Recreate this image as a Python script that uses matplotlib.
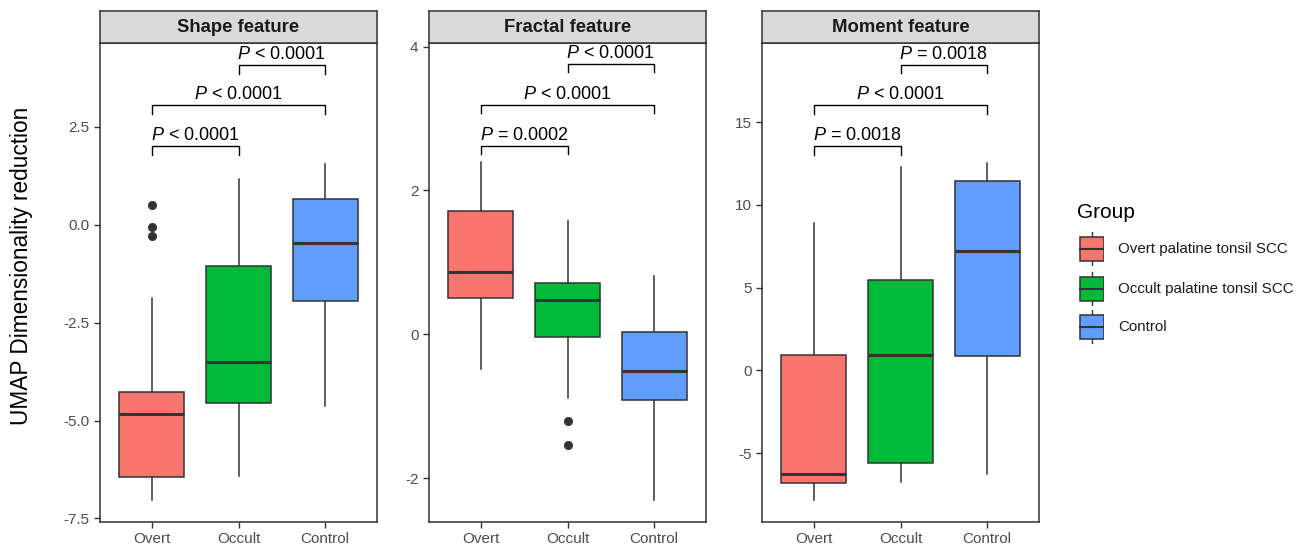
import numpy as np
import matplotlib.pyplot as plt
from matplotlib.patches import Rectangle

plt.rcParams['font.family'] = ['Liberation Sans', 'DejaVu Sans']
plt.rcParams['mathtext.fontset'] = 'custom'
plt.rcParams['mathtext.it'] = 'Liberation Sans:italic'
plt.rcParams['mathtext.rm'] = 'Liberation Sans'

# Skupiny a barvy
groups = ['Overt', 'Occult', 'Control']
legend_labels = ['Overt palatine tonsil SCC', 'Occult palatine tonsil SCC', 'Control']
colors = ['#F8766D', '#00BA38', '#619CFF']
edge = '#333333'

panels = ['Shape feature', 'Fractal feature', 'Moment feature']

# Statistiky boxplotu: [dolní vous, Q1, medián, Q3, horní vous]
shape_stats = [[-7.02, -6.45, -4.83, -4.26, -1.87],
               [-6.42, -4.56, -3.50, -1.05, 1.16],
               [-4.62, -1.95, -0.46, 0.65, 1.54]]
shape_fliers = [[0.51, -0.07, -0.28], [], []]

fractal_stats = [[-0.48, 0.51, 0.87, 1.71, 2.39],
                 [-0.89, -0.04, 0.48, 0.71, 1.57],
                 [-2.31, -0.92, -0.51, 0.03, 0.81]]
fractal_fliers = [[], [-1.20, -1.54], []]

moment_stats = [[-7.82, -6.77, -6.24, 0.95, 8.88],
                [-6.72, -5.60, 0.95, 5.45, 12.30],
                [-6.24, 0.89, 7.19, 11.42, 12.54]]
moment_fliers = [[], [], []]

# Porovnání (skupina a, skupina b, výška závorky, text)
shape_comp = [(0, 1, 2.01, '< 0.0001'), (0, 2, 3.05, '< 0.0001'), (1, 2, 4.07, '< 0.0001')]
fractal_comp = [(0, 1, 2.62, '= 0.0002'), (0, 2, 3.19, '< 0.0001'), (1, 2, 3.76, '< 0.0001')]
moment_comp = [(0, 1, 13.53, '= 0.0018'), (0, 2, 16.0, '< 0.0001'), (1, 2, 18.46, '= 0.0018')]

ylims = [(-7.59, 4.64), (-2.61, 4.05), (-9.15, 19.77)]
yticks = [[-7.5, -5.0, -2.5, 0.0, 2.5], [-2, 0, 2, 4], [-5, 0, 5, 10, 15]]
yticklabels = [['-7.5', '-5.0', '-2.5', '0.0', '2.5'], ['-2', '0', '2', '4'], ['-5', '0', '5', '10', '15']]

all_stats = [shape_stats, fractal_stats, moment_stats]
all_fliers = [shape_fliers, fractal_fliers, moment_fliers]
all_comp = [shape_comp, fractal_comp, moment_comp]

W, H = 1311, 549
fig = plt.figure(figsize=(W / 100, H / 100), dpi=100)

lefts = [100, 429, 762]
pw = 277
top_strip, top_plot, bottom = 11, 43, 522

for k in range(3):
    ax = fig.add_axes([lefts[k] / W, 1 - bottom / H, pw / W, (bottom - top_plot) / H])
    sax = fig.add_axes([lefts[k] / W, 1 - top_plot / H, pw / W, (top_plot - top_strip) / H])

    bstats = []
    for i, s in enumerate(all_stats[k]):
        bstats.append(dict(whislo=s[0], q1=s[1], med=s[2], q3=s[3], whishi=s[4],
                           fliers=all_fliers[k][i]))
    bp = ax.bxp(bstats, positions=[1, 2, 3], widths=0.75, patch_artist=True,
                showcaps=False,
                boxprops=dict(edgecolor=edge, linewidth=1.1),
                medianprops=dict(color=edge, linewidth=2.2),
                whiskerprops=dict(color=edge, linewidth=1.1),
                flierprops=dict(marker='o', markerfacecolor=edge, markeredgecolor=edge,
                                markersize=5.5))
    for patch, c in zip(bp['boxes'], colors):
        patch.set_facecolor(c)
    for w in bp['whiskers']:
        w.set_zorder(0.5)

    y0, y1 = ylims[k]
    ax.set_ylim(y0, y1)
    ax.set_xlim(0.4, 3.6)
    tip = (y1 - y0) * 0.018
    for a, b, h, txt in all_comp[k]:
        xa, xb = a + 1, b + 1
        ax.plot([xa, xa, xb, xb], [h - tip, h, h, h - tip], color='black', linewidth=1.0)
        ax.text((xa + xb) / 2, h + tip * 0.25, r'$\mathit{P}$ ' + txt, ha='center', va='bottom',
                fontsize=13, color='black')

    ax.set_xticks([1, 2, 3])
    ax.set_xticklabels(groups)
    ax.set_yticks(yticks[k])
    ax.set_yticklabels(yticklabels[k])
    ax.tick_params(colors='#4D4D4D', labelsize=11, length=4, width=1.0)
    ax.tick_params(axis='both', color=edge)
    for sp in ax.spines.values():
        sp.set_color(edge)
        sp.set_linewidth(1.1)

    sax.set_facecolor('#D9D9D9')
    sax.set_xticks([])
    sax.set_yticks([])
    for sp in sax.spines.values():
        sp.set_color(edge)
        sp.set_linewidth(1.1)
    sax.text(0.5, 0.5, panels[k], ha='center', va='center', fontsize=13.3,
             fontweight='bold', color='#1A1A1A', transform=sax.transAxes)

fig.text(22 / W, 1 - 266 / H, 'UMAP Dimensionality reduction', rotation=90,
         ha='center', va='center', fontsize=16.3, color='black')

# Legenda
fig.text(1077 / W, 1 - 212 / H, 'Group', ha='left', va='center', fontsize=15, color='black')
for i, (lab, c) in enumerate(zip(legend_labels, colors)):
    yc = [249, 289, 327][i]
    kax = fig.add_axes([1079 / W, 1 - (yc + 17) / H, 25 / W, 34 / H])
    kax.set_xlim(0, 1)
    kax.set_ylim(0, 1)
    kax.axis('off')
    kax.plot([0.5, 0.5], [0, 1], color=edge, linewidth=1.0, zorder=1)
    kax.add_patch(Rectangle((0.02, 0.16), 0.96, 0.68, facecolor=c, edgecolor=edge,
                            linewidth=1.1, zorder=2))
    kax.plot([0.02, 0.98], [0.5, 0.5], color=edge, linewidth=1.5, zorder=3)
    fig.text(1118 / W, 1 - yc / H, lab, ha='left', va='center', fontsize=10.9, color='#1A1A1A')

fig.savefig('out.png', dpi=100)
